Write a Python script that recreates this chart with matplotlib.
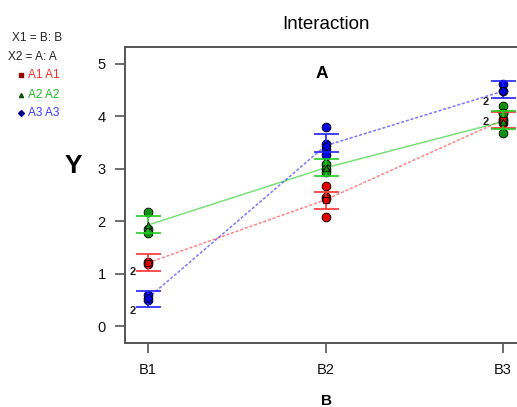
import matplotlib
matplotlib.use("Agg")
import matplotlib.pyplot as plt
import numpy as np

plt.rcParams['font.family'] = ['Liberation Sans', 'DejaVu Sans']

levels_b = ['B1', 'B2', 'B3']
groups = ['A1', 'A2', 'A3']

# observations per group, per B level
obs_a1 = [[1.22, 1.19], [2.67, 2.47, 2.42, 2.09], [4.07, 3.95, 3.88]]
obs_a2 = [[2.18, 1.85, 1.78], [3.09, 3.00, 2.93], [4.19, 4.07, 3.92, 3.69]]
obs_a3 = [[0.59, 0.50], [3.79, 3.47, 3.38, 3.26], [4.62, 4.48]]

# means and error bar limits
mean_a1 = [1.21, 2.41, 3.93]
mean_a2 = [1.93, 3.02, 3.90]
mean_a3 = [0.54, 3.44, 4.48]
low_a1 = [1.05, 2.24, 3.78]
high_a1 = [1.38, 2.56, 4.08]
low_a2 = [1.77, 2.86, 3.75]
high_a2 = [2.10, 3.19, 4.11]
low_a3 = [0.37, 3.32, 4.34]
high_a3 = [0.68, 3.66, 4.67]

# "2" count labels (x level index, y)
count_x = [0.915, 0.915, 2.9, 2.9]
count_y = [1.03, 0.29, 4.27, 3.89]
count_txt = ['2', '2', '2', '2']

fig = plt.figure(figsize=(5.17, 4.07), dpi=100)
ax = fig.add_axes([0.2418, 0.157, 0.776, 0.7275])

x = np.arange(1, 4)
styles = [
    ('A1', obs_a1, mean_a1, low_a1, high_a1, '#e00000', '#ff3030', (0, (2, 1.2)), 's'),
    ('A2', obs_a2, mean_a2, low_a2, high_a2, '#109010', '#22cc22', '-', '^'),
    ('A3', obs_a3, mean_a3, low_a3, high_a3, '#0000e0', '#2020ff', (0, (2, 1.2)), 'D'),
]

for name, obs, mean, low, high, fill, ecol, ls, mk in styles:
    ax.plot(x, mean, color=ecol, alpha=0.6, lw=1.1, linestyle=ls, zorder=2)
    for i in range(3):
        ax.scatter([x[i]] * len(obs[i]), obs[i], s=40, color=fill,
                   edgecolor='black', linewidth=0.6, zorder=3)
    mean = np.array(mean)
    err = np.array([mean - np.array(low), np.array(high) - mean])
    ax.errorbar(x, mean, yerr=err, fmt='none', ecolor=ecol, elinewidth=1.2,
                capsize=9, capthick=1.2, zorder=4)
    ax.scatter(x, mean, marker=mk, s=22, color=fill, edgecolor='black',
               linewidth=0.5, zorder=5)

for cx, cy, t in zip(count_x, count_y, count_txt):
    ax.text(cx, cy, t, fontsize=8, fontweight='bold', color='#222222',
            ha='center', va='center')

ax.text(1.98, 4.82, 'A', fontsize=12.5, fontweight='bold', ha='center', va='center')

ax.set_xlim(0.87, 3.13)
ax.set_ylim(-0.32, 5.32)
ax.set_xticks(x)
ax.set_xticklabels(levels_b)
ax.set_yticks(range(6))
for s in ['left', 'top', 'bottom', 'right']:
    ax.spines[s].set_color('#555555')
    ax.spines[s].set_linewidth(1.4)
ax.tick_params(axis='both', colors='#555555', labelcolor='#111111',
               labelsize=10.5, length=7, width=1.2, pad=7)

fig.text(0.631, 0.006, 'B', fontsize=11, fontweight='bold', ha='center', va='baseline')
fig.text(0.631, 0.941, 'Interaction', fontsize=13.5, ha='center', va='center')
fig.text(0.141, 0.592, 'Y', fontsize=19, fontweight='bold', ha='center', va='center')

# legend-like key at top left
fig.text(0.023, 0.906, 'X1 = B: B', fontsize=8.5, color='#222222', va='center')
fig.text(0.015, 0.860, 'X2 = A: A', fontsize=8.5, color='#222222', va='center')
key_y = [0.815, 0.767, 0.722]
key_fill = ['#990000', '#115511', '#000088']
key_txt = ['#ff2a2a', '#22bb22', '#3a3aff']
key_mk = ['s', '^', 'D']
for g, yy, kf, kt, km in zip(groups, key_y, key_fill, key_txt, key_mk):
    fig.text(0.055, yy, g + ' ' + g, fontsize=8.5, color=kt, va='center')
    fig.lines.append(plt.Line2D([0.040], [yy], marker=km, markersize=3,
                                color=kf, transform=fig.transFigure))

fig.savefig('out.png', dpi=100)
